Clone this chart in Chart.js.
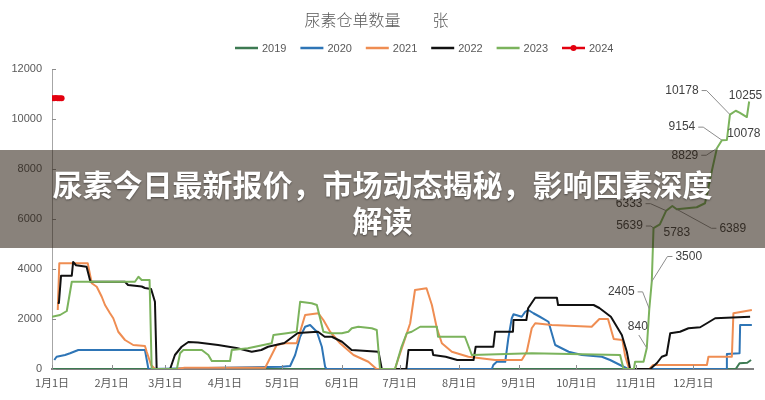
<!DOCTYPE html>
<html lang="zh-CN">
<head>
<meta charset="UTF-8">
<title>尿素仓单数量</title>
<script src="https://cdn.jsdelivr.net/npm/chart.js@4.4.1/dist/chart.umd.min.js"></script>
<style>
    html, body { margin: 0; padding: 0; background: #fff; }
    .wrap { position: relative; width: 765px; height: 400px; overflow: hidden; }
    .banner {
        position: absolute; left: 0; top: 150px; width: 765px; height: 98px;
        background: rgba(40, 28, 15, 0.55); box-sizing: border-box; padding-top: 15px;
    }
    .banner p {
        margin: 0 auto; width: 680px; text-align: center; color: #fff;
        font-family: 'Noto Sans CJK SC', sans-serif; font-weight: 700;
        font-size: 30px; line-height: 36px; text-shadow: 0 1px 2px rgba(0, 0, 0, 0.45);
    }
</style>
</head>
<body>
<div class="wrap">
    <canvas id="stock-chart" width="765" height="400"></canvas>
    <div class="banner"><p>尿素今日最新报价，市场动态揭秘，影响因素深度解读</p></div>
</div>
<script>
// 月份刻度（年内第几天）
const tickDays = [0, 31, 59, 90, 120, 151, 181, 212, 243, 273, 304, 334];
const tickLabels = ['1月1日', '2月1日', '3月1日', '4月1日', '5月1日', '6月1日',
    '7月1日', '8月1日', '9月1日', '10月1日', '11月1日', '12月1日'];
const yearLabels = ['2019', '2020', '2021', '2022', '2023', '2024'];

// 各年度仓单数量（张）
const days2019 = [0, 356, 358, 362, 364];
const vals2019 = [0, 0, 230, 250, 360];

const days2020 = [1.2, 2.4, 6.8, 9.4, 13.7, 48.4, 50.2, 119.6, 124, 126.6, 129.2, 131.8, 134.4, 137.9,
    140.5, 142.2, 143, 229, 229.8, 231.6, 236, 237.6, 239.4, 240.3, 244.6, 246.4, 248, 250.7, 254,
    258.5, 262, 269, 275.9, 286.3, 290.6, 297.6, 300, 351, 351.4, 358, 358.3, 364.4];
const vals2020 = [360, 490, 560, 630, 760, 760, 0, 90, 120, 560, 1290, 1690, 1760, 1490,
    890, 90, 0, 0, 160, 290, 290, 1230, 2030, 2190, 2090, 2290, 2360, 2230, 2090,
    1890, 960, 690, 560, 490, 360, 90, 0, 0, 600, 630, 1760, 1760];

const days2021 = [3, 3.8, 18.6, 20.7, 23.3, 25.9, 27.6, 30.2, 31.9, 34.5, 38, 42.3, 48.4, 49.3, 51.6,
    53.6, 65, 69, 111, 117, 121.4, 127.4, 131.8, 138.7, 141.3, 144.8, 150, 157, 164.7, 169, 178.6,
    180.4, 183.9, 186.5, 189, 195, 197.8, 200.4, 203, 208.2, 216.8, 230.7, 244.6, 247.2, 249.8,
    251.6, 260.3, 281, 285, 289.5, 292.5, 297, 298.5, 300.5, 311, 313, 341, 341.8, 354, 354.8, 364.4];
const vals2021 = [2360, 4230, 4230, 3430, 3290, 2890, 2560, 2230, 2030, 1490, 1160, 960, 920, 690, 160,
    0, 0, 50, 50, 960, 1030, 1030, 2160, 2230, 1960, 1490, 1030, 560, 290, 0, 0,
    430, 1230, 1830, 3160, 3230, 2560, 1630, 1030, 690, 490, 360, 360, 690, 1630,
    1830, 1760, 1690, 2000, 2000, 1200, 1160, 500, 0, 0, 160, 160, 490, 490, 2230, 2360];

const days2022 = [3, 3.6, 4.7, 10.3, 11, 12.5, 18, 20, 38, 39.6, 46.7, 48.4, 51.6, 53.6, 54.5, 61.5,
    64, 67.5, 71, 76, 86.5, 96, 104, 109, 112.5, 121, 128, 138.5, 142, 145.7, 151, 156, 170,
    171.7, 184.5, 185.6, 198, 198.5, 205, 211, 219.5, 220.6, 229.8, 230.7, 240, 240.3, 247,
    247.9, 251.6, 262.9, 263.5, 282, 285, 291, 296.7, 299.3, 301, 311.5, 315, 317.5, 320,
    321.9, 327, 331.4, 337.5, 341, 345.3, 363.5];
const vals2022 = [2640, 2640, 3730, 3730, 4280, 4150, 4090, 3490, 3490, 3360, 3300, 3240, 3200, 2690, 0, 0,
    560, 890, 1080, 1060, 960, 840, 690, 760, 890, 1040, 1440, 1490, 1290, 1290, 1090, 760, 690,
    0, 0, 760, 760, 560, 490, 360, 360, 890, 890, 1490, 1490, 1960, 1960,
    2430, 2850, 2850, 2560, 2560, 2440, 2090, 1360, 690, 0, 0, 240, 490, 560,
    1430, 1490, 1630, 1670, 1830, 2030, 2090];

const days2023 = [0, 4.2, 7.7, 10.3, 43.2, 45, 46.7, 50.8, 51.9, 65, 66.7, 68.4, 78, 81.4, 83.2, 92.7,
    93.6, 102, 114.4, 115.3, 122.2, 127.4, 129.2, 135.2, 137.9, 141.3, 144.8, 150.9, 154.3, 156.1,
    159.5, 166.5, 169.1, 170.8, 178.6, 182, 184.7, 187.3, 191.7, 200.4, 201, 215, 218.6, 249.8,
    295.8, 297.6, 303, 303.6, 308, 309.7, 311, 312.3, 313.2, 316.5, 319.8, 323, 325.3, 335.7,
    340, 341, 343.5, 346.2, 348.8, 351.4, 353, 356, 358, 361.8, 363];
const vals2023 = [2090, 2160, 2320, 3490, 3490, 3690, 3560, 3560, 0, 0, 630, 760, 760, 560, 320, 320,
    760, 830, 1030, 1360, 1430, 1490, 2690, 2630, 2560, 1490, 1430, 1430, 1490, 1630,
    1690, 1630, 1560, 0, 0, 890, 1430, 1490, 1690, 1690, 1290, 1290, 560, 630,
    560, 0, 0, 290, 290, 840, 2405, 3500, 5639, 5783, 6333, 6520, 6389, 6470,
    6630, 6960, 7900, 8829, 9154, 9160, 10178, 10330, 10255, 10078, 10700];

const days2024 = [0, 1, 2, 3, 4, 5];
const vals2024 = [10830, 10830, 10840, 10830, 10830, 10830];

// 2023 年需要标注的数值
const noteValues = [840, 2405, 3500, 5639, 5783, 6333, 6389, 8829, 9154, 10178, 10255, 10078];
const noteOffsets = [
    [-9, -21, 'below'], [-28, -17, 'left'], [37, -25, 'right'], [-24, -2, 'left'],
    [17, 8, 'none'], [-37, -7, 'left'], [56, 19, 'right'], [-32, 7, 'left'],
    [-40, -13, 'left'], [-48, -24, 'left'], [6, -17, 'none'], [-3, 17, 'none']
];

const toPoints = (days, vals) => days.map((d, i) => ({ x: d, y: vals[i] }));

/**
 * 坐标轴内侧的小刻度
 */
const tickMarks = {
    id: 'tickMarks',
    afterDraw(chart) {
        const { ctx, scales: { x, y } } = chart;
        ctx.save();
        ctx.strokeStyle = '#8c8c8c';
        ctx.lineWidth = 1;
        ctx.beginPath();
        x.ticks.forEach(t => {
            const px = Math.round(x.getPixelForValue(t.value)) + 0.5;
            ctx.moveTo(px, y.bottom);
            ctx.lineTo(px, y.bottom - 4);
        });
        y.ticks.forEach(t => {
            const py = Math.round(y.getPixelForValue(t.value)) + 0.5;
            ctx.moveTo(x.left, py);
            ctx.lineTo(x.left + 4, py);
        });
        ctx.stroke();
        ctx.restore();
    }
};

/**
 * 图例（按年份）
 */
const yearKey = {
    id: 'yearKey',
    afterDraw(chart) {
        const ctx = chart.ctx;
        const startX = 235, y = 48, step = 65.4, lineW = 23;
        ctx.save();
        ctx.font = '11px "Liberation Sans", sans-serif';
        ctx.textBaseline = 'middle';
        chart.data.datasets.forEach((ds, i) => {
            const x = startX + i * step;
            ctx.strokeStyle = ds.borderColor;
            ctx.lineWidth = 2.5;
            ctx.beginPath();
            ctx.moveTo(x, y);
            ctx.lineTo(x + lineW, y);
            ctx.stroke();
            if (ds.pointRadius > 0) {
                ctx.fillStyle = ds.borderColor;
                ctx.beginPath();
                ctx.arc(x + lineW / 2, y, 3, 0, Math.PI * 2);
                ctx.fill();
            }
            ctx.fillStyle = '#595959';
            ctx.fillText(ds.label, x + lineW + 4, y + 0.5);
        });
        ctx.restore();
    }
};

/**
 * 2023 年数据标签和引导线
 */
const valueNotes = {
    id: 'valueNotes',
    afterDatasetsDraw(chart) {
        const ctx = chart.ctx;
        const meta = chart.getDatasetMeta(4);
        ctx.save();
        ctx.font = '12px "Liberation Sans", sans-serif';
        ctx.textAlign = 'center';
        ctx.textBaseline = 'middle';
        ctx.strokeStyle = '#8c8c8c';
        ctx.lineWidth = 1;
        noteValues.forEach((v, k) => {
            const pt = meta.data[vals2023.indexOf(v)];
            if (!pt) return;
            const [dx, dy, side] = noteOffsets[k];
            const lx = pt.x + dx, ly = pt.y + dy;
            const w = ctx.measureText(String(v)).width;
            ctx.beginPath();
            if (side === 'left') {
                ctx.moveTo(lx + w / 2 + 3, ly);
                ctx.lineTo(lx + w / 2 + 8, ly);
                ctx.lineTo(pt.x, pt.y);
            } else if (side === 'right') {
                ctx.moveTo(lx - w / 2 - 3, ly);
                ctx.lineTo(lx - w / 2 - 8, ly);
                ctx.lineTo(pt.x, pt.y);
            } else if (side === 'below') {
                ctx.moveTo(lx + 1, ly + 8);
                ctx.lineTo(pt.x, pt.y);
            }
            ctx.stroke();
            ctx.fillStyle = '#404040';
            ctx.fillText(String(v), lx, ly);
        });
        ctx.restore();
    }
};

const lineSet = (label, days, vals, color, order) => ({
    label: label,
    data: toPoints(days, vals),
    borderColor: color,
    backgroundColor: color,
    borderWidth: 2,
    pointRadius: 0,
    tension: 0,
    borderJoinStyle: 'round',
    order: order
});

const datasets = [
    lineSet(yearLabels[0], days2019, vals2019, '#3d7a52', 5),
    lineSet(yearLabels[1], days2020, vals2020, '#2e75b6', 4),
    lineSet(yearLabels[2], days2021, vals2021, '#ef8d52', 3),
    lineSet(yearLabels[3], days2022, vals2022, '#111111', 2),
    lineSet(yearLabels[4], days2023, vals2023, '#7bb35c', 1),
    Object.assign(lineSet(yearLabels[5], days2024, vals2024, '#e3000f', 0), {
        borderWidth: 3, pointRadius: 3, pointBorderWidth: 0
    })
];

new Chart(document.getElementById('stock-chart'), {
    type: 'line',
    data: { datasets: datasets },
    options: {
        responsive: false,
        animation: false,
        layout: { padding: { left: 0, right: 12, top: 0, bottom: 0 } },
        plugins: {
            legend: { display: false },
            tooltip: { enabled: false },
            title: {
                display: true,
                text: '尿素仓单数量　　张',
                color: '#595959',
                font: { family: 'Noto Sans CJK SC', size: 16, weight: 300 },
                padding: { top: 10, bottom: 39.8 }
            }
        },
        scales: {
            x: {
                type: 'linear',
                min: 0,
                max: 365,
                afterBuildTicks: (axis) => {
                    axis.ticks = tickDays.map(d => ({ value: d }));
                },
                afterFit: (axis) => { axis.height = 31; },
                ticks: {
                    autoSkip: false,
                    maxRotation: 0,
                    padding: 7,
                    color: '#595959',
                    font: { family: 'Noto Sans CJK SC', size: 11 },
                    callback: (value) => tickLabels[tickDays.indexOf(value)]
                },
                grid: { drawOnChartArea: false, drawTicks: false },
                border: { color: '#808080', width: 2 }
            },
            y: {
                min: 0,
                max: 12000,
                afterFit: (axis) => { axis.width = 52; },
                ticks: {
                    stepSize: 2000,
                    padding: 10,
                    color: '#595959',
                    font: { family: 'Liberation Sans', size: 11 },
                    callback: (value) => String(value)
                },
                grid: { drawOnChartArea: false, drawTicks: false },
                border: { color: '#a6a6a6', width: 1 }
            }
        }
    },
    plugins: [tickMarks, yearKey, valueNotes]
});
</script>
</body>
</html>
